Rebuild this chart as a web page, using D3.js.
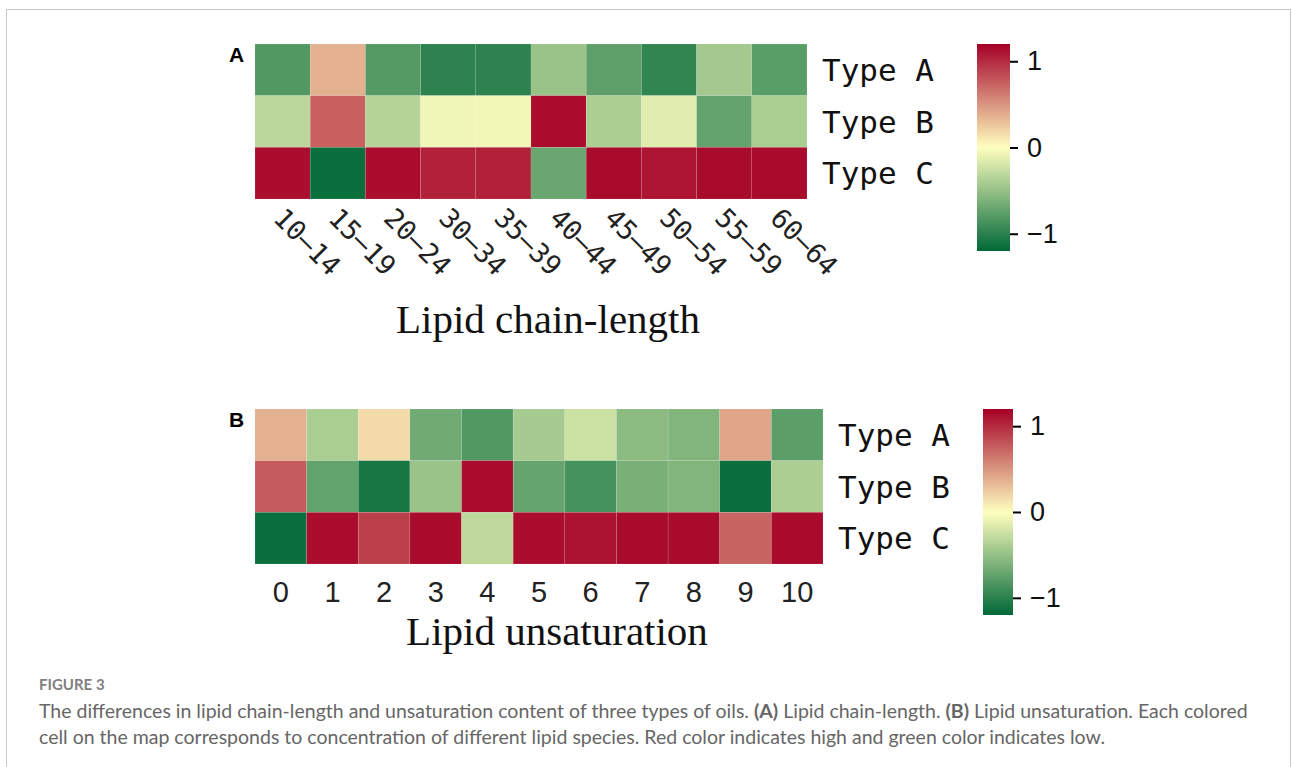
<!DOCTYPE html>
<html>
<head>
<meta charset="utf-8">
<script src="https://cdn.jsdelivr.net/npm/d3@7.9.0/dist/d3.min.js"></script>
<style>
  body { margin: 0; background: #fff; }
  svg { display: block; }
</style>
</head>
<body>
<svg id="fig" width="1292" height="767"></svg>
<script>
// data (column z-scores)
const oilTypes = ["Type A", "Type B", "Type C"];

const chainLengths = ["10–14", "15–19", "20–24", "30–34", "35–39", "40–44", "45–49", "50–54", "55–59", "60–64"];
const chainTypeA = [-0.82, 0.37, -0.80, -0.99, -0.99, -0.48, -0.76, -0.97, -0.43, -0.78];
const chainTypeB = [-0.32, 0.75, -0.34, -0.07, -0.06, 1.14, -0.39, -0.14, -0.73, -0.40];
const chainTypeC = [1.14, -1.15, 1.14, 1.04, 1.05, -0.70, 1.15, 1.10, 1.15, 1.15];

const unsatLevels = ["0", "1", "2", "3", "4", "5", "6", "7", "8", "9", "10"];
const unsatTypeA = [0.37, -0.40, 0.17, -0.67, -0.82, -0.42, -0.24, -0.54, -0.59, 0.42, -0.77];
const unsatTypeB = [0.77, -0.74, -1.09, -0.48, 1.14, -0.72, -0.87, -0.63, -0.59, -1.15, -0.39];
const unsatTypeC = [-1.15, 1.14, 0.90, 1.15, -0.30, 1.14, 1.11, 1.15, 1.15, 0.73, 1.15];

const legendTicks = [-1, 0, 1];
const legendLimit = 1.2;

const svg = d3.select("#fig");
const color = d3.scaleLinear()
  .domain([-legendLimit, 0, legendLimit])
  .range(["#006837", "#ffffbf", "#a50026"])
  .interpolate(d3.interpolateRgb);

// frame
svg.append("rect")
  .attr("x", 6.5).attr("y", 9.5)
  .attr("width", 1284).attr("height", 800)
  .attr("fill", "#fff").attr("stroke", "#c8c8c8");

const monoFont = "'DejaVu Sans Mono', monospace";

function drawHeatmap(opts) {
  const g = svg.append("g");
  const x = d3.scaleBand().domain(opts.cols).range([opts.left, opts.right]);
  const y = d3.scaleBand().domain(oilTypes).range([opts.top, opts.bottom]);

  const cells = [];
  oilTypes.forEach((t, i) => {
    opts.rows[i].forEach((v, j) => cells.push({ type: t, col: opts.cols[j], value: v }));
  });

  g.selectAll("rect.cell")
    .data(cells)
    .join("rect")
    .attr("class", "cell")
    .attr("x", d => x(d.col))
    .attr("y", d => y(d.type))
    .attr("width", x.bandwidth())
    .attr("height", y.bandwidth())
    .attr("fill", d => color(d.value))
    .attr("stroke", "rgba(255,255,255,0.18)")
    .attr("stroke-width", 0.6);

  // row labels
  g.selectAll("text.row")
    .data(oilTypes)
    .join("text")
    .attr("class", "row")
    .attr("x", opts.right + 15)
    .attr("y", d => y(d) + y.bandwidth() / 2)
    .attr("dominant-baseline", "central")
    .attr("font-family", monoFont)
    .attr("font-size", 31)
    .attr("fill", "#111")
    .text(d => d);

  // column labels
  if (opts.rotate) {
    g.selectAll("text.col")
      .data(opts.cols)
      .join("text")
      .attr("class", "col")
      .attr("transform", d => `translate(${x(d) + x.bandwidth() / 2 - 4},${opts.bottom + 14}) rotate(45)`)
      .attr("dominant-baseline", "central")
      .attr("font-family", monoFont)
      .attr("font-size", 27)
      .attr("fill", "#222")
      .text(d => d);
  } else {
    g.selectAll("text.col")
      .data(opts.cols)
      .join("text")
      .attr("class", "col")
      .attr("x", d => x(d) + x.bandwidth() / 2)
      .attr("y", opts.bottom + 38)
      .attr("text-anchor", "middle")
      .attr("font-family", "'Liberation Sans', Arial, sans-serif")
      .attr("font-size", 29)
      .attr("fill", "#222")
      .text(d => d);
  }

  // panel letter
  g.append("text")
    .attr("x", 229).attr("y", opts.top + 18)
    .attr("font-family", "'Liberation Sans', Arial, sans-serif")
    .attr("font-weight", "bold")
    .attr("font-size", 21)
    .text(opts.letter);

  // axis title
  g.append("text")
    .attr("x", opts.titleX).attr("y", opts.titleY)
    .attr("text-anchor", "middle")
    .attr("font-family", "'Liberation Serif', 'Times New Roman', serif")
    .attr("font-size", 41)
    .attr("fill", "#111")
    .text(opts.title);

  // colour bar
  const gradId = "grad" + opts.letter;
  const grad = svg.append("defs").append("linearGradient")
    .attr("id", gradId)
    .attr("x1", 0).attr("y1", 1).attr("x2", 0).attr("y2", 0);
  d3.range(0, 1.0001, 0.05).forEach(t => {
    grad.append("stop")
      .attr("offset", t)
      .attr("stop-color", color(-legendLimit + 2 * legendLimit * t));
  });
  const cb = opts.bar;
  g.append("rect")
    .attr("x", cb.x).attr("y", cb.top)
    .attr("width", cb.w).attr("height", cb.bottom - cb.top)
    .attr("fill", `url(#${gradId})`);

  const ly = d3.scaleLinear().domain([-legendLimit, legendLimit]).range([cb.bottom, cb.top]);
  const ax = g.append("g")
    .attr("transform", `translate(${cb.x + cb.w},0)`)
    .call(d3.axisRight(ly).tickValues(legendTicks).tickSize(8).tickPadding(9).tickFormat(d3.format("d")));
  ax.select(".domain").remove();
  ax.selectAll(".tick line").attr("stroke", "#000").attr("stroke-width", 2);
  ax.selectAll(".tick text")
    .attr("font-family", "'Liberation Sans', Arial, sans-serif")
    .attr("font-size", 27)
    .attr("fill", "#111");
}

drawHeatmap({
  letter: "A",
  cols: chainLengths,
  rows: [chainTypeA, chainTypeB, chainTypeC],
  left: 255, right: 807, top: 44, bottom: 199,
  rotate: true,
  title: "Lipid chain-length", titleX: 548, titleY: 333,
  bar: { x: 977, w: 33, top: 44, bottom: 251 }
});

drawHeatmap({
  letter: "B",
  cols: unsatLevels,
  rows: [unsatTypeA, unsatTypeB, unsatTypeC],
  left: 255, right: 823, top: 409, bottom: 564,
  rotate: false,
  title: "Lipid unsaturation", titleX: 557, titleY: 645,
  bar: { x: 983, w: 30, top: 409, bottom: 615 }
});

// caption
const cap = svg.append("g")
  .attr("font-family", "Lato, 'Noto Sans', sans-serif")
  .attr("fill", "#666");
cap.append("text")
  .attr("x", 39).attr("y", 690)
  .attr("font-size", 15).attr("font-weight", "bold")
  .attr("fill", "#808080")
  .text("FIGURE 3");

const line1 = cap.append("text").attr("x", 39).attr("y", 718).attr("font-size", 19.5);
line1.append("tspan").text("The differences in lipid chain-length and unsaturation content of three types of oils. ");
line1.append("tspan").attr("font-weight", "bold").text("(A)");
line1.append("tspan").text(" Lipid chain-length. ");
line1.append("tspan").attr("font-weight", "bold").text("(B)");
line1.append("tspan").text(" Lipid unsaturation. Each colored");

cap.append("text").attr("x", 39).attr("y", 744).attr("font-size", 19.5)
  .text("cell on the map corresponds to concentration of different lipid species. Red color indicates high and green color indicates low.");
</script>
</body>
</html>
